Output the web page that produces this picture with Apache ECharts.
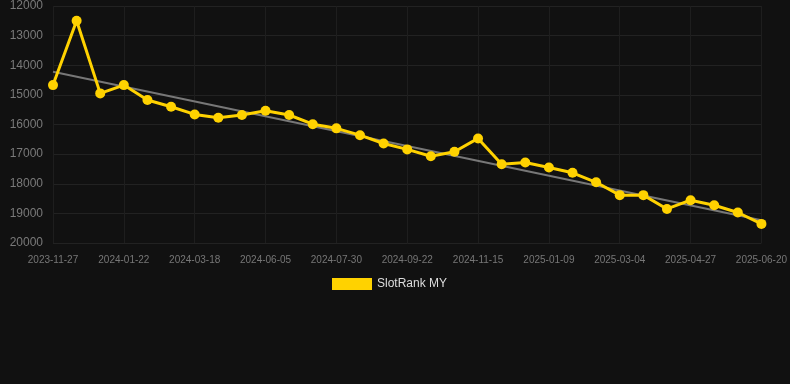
<!DOCTYPE html>
<html>
<head>
<meta charset="utf-8">
<script src="https://cdn.jsdelivr.net/npm/echarts@6/dist/echarts.min.js"></script>
<style>
html,body{margin:0;padding:0;background:#111111;}
#main{width:790px;height:384px;}
</style>
</head>
<body>
<div id="main"></div>
<script>
var dates = ['2023-11-27','2023-12-16','2024-01-04','2024-01-22','2024-02-09','2024-02-28',
	'2024-03-18','2024-04-13','2024-05-10','2024-06-05','2024-06-23','2024-07-12',
	'2024-07-30','2024-08-17','2024-09-04','2024-09-22','2024-10-10','2024-10-28',
	'2024-11-15','2024-12-03','2024-12-21','2025-01-09','2025-01-27','2025-02-14',
	'2025-03-04','2025-03-22','2025-04-09','2025-04-27','2025-05-15','2025-06-02','2025-06-20'];
var ranks = [14670,12500,14950,14670,15175,15400,15660,15770,15680,15535,15680,15990,
	16130,16360,16640,16840,17070,16920,16470,17340,17280,17450,17630,17950,
	18385,18385,18850,18555,18725,18970,19355];
// trend line end points (first and last date)
var trend = [14220,19230];
var yTicks = [12000,20000,1000];

var trendData = dates.map(function(d,i){
	if(i==0) return trend[0];
	if(i==dates.length-1) return trend[1];
	return null;
});

var chart = echarts.init(document.getElementById('main'));
chart.setOption({
	backgroundColor:'#111111',
	animation:false,
	grid:{left:53,right:28,top:6,bottom:141},
	legend:{
		top:278,
		left:332,
		padding:0,
		itemWidth:40,
		itemHeight:12,
		itemGap:6,
		textStyle:{color:'#dddddd',fontSize:12},
		data:[{name:'SlotRank MY',icon:'rect'}]
	},
	xAxis:{
		type:'category',
		boundaryGap:false,
		data:dates,
		axisLine:{show:false},
		axisTick:{show:false},
		axisLabel:{color:'#777777',fontSize:10,interval:2,margin:12},
		splitLine:{show:true,interval:2,lineStyle:{color:'#1e1e1e'}}
	},
	yAxis:{
		type:'value',
		inverse:true,
		min:yTicks[0],
		max:yTicks[1],
		interval:yTicks[2],
		axisLine:{show:false},
		axisTick:{show:false},
		axisLabel:{color:'#7a7a7a',fontSize:12,margin:10,formatter:function(v){return String(v);}},
		splitLine:{lineStyle:{color:'#222222'}}
	},
	series:[
		{
			name:'trend',
			type:'line',
			data:trendData,
			connectNulls:true,
			symbol:'none',
			lineStyle:{color:'#777777',width:2},
			silent:true,
			z:1
		},
		{
			name:'SlotRank MY',
			type:'line',
			data:ranks,
			symbol:'circle',
			symbolSize:10,
			itemStyle:{color:'#ffd200'},
			lineStyle:{color:'#ffd200',width:3},
			z:2
		}
	]
});
</script>
</body>
</html>
